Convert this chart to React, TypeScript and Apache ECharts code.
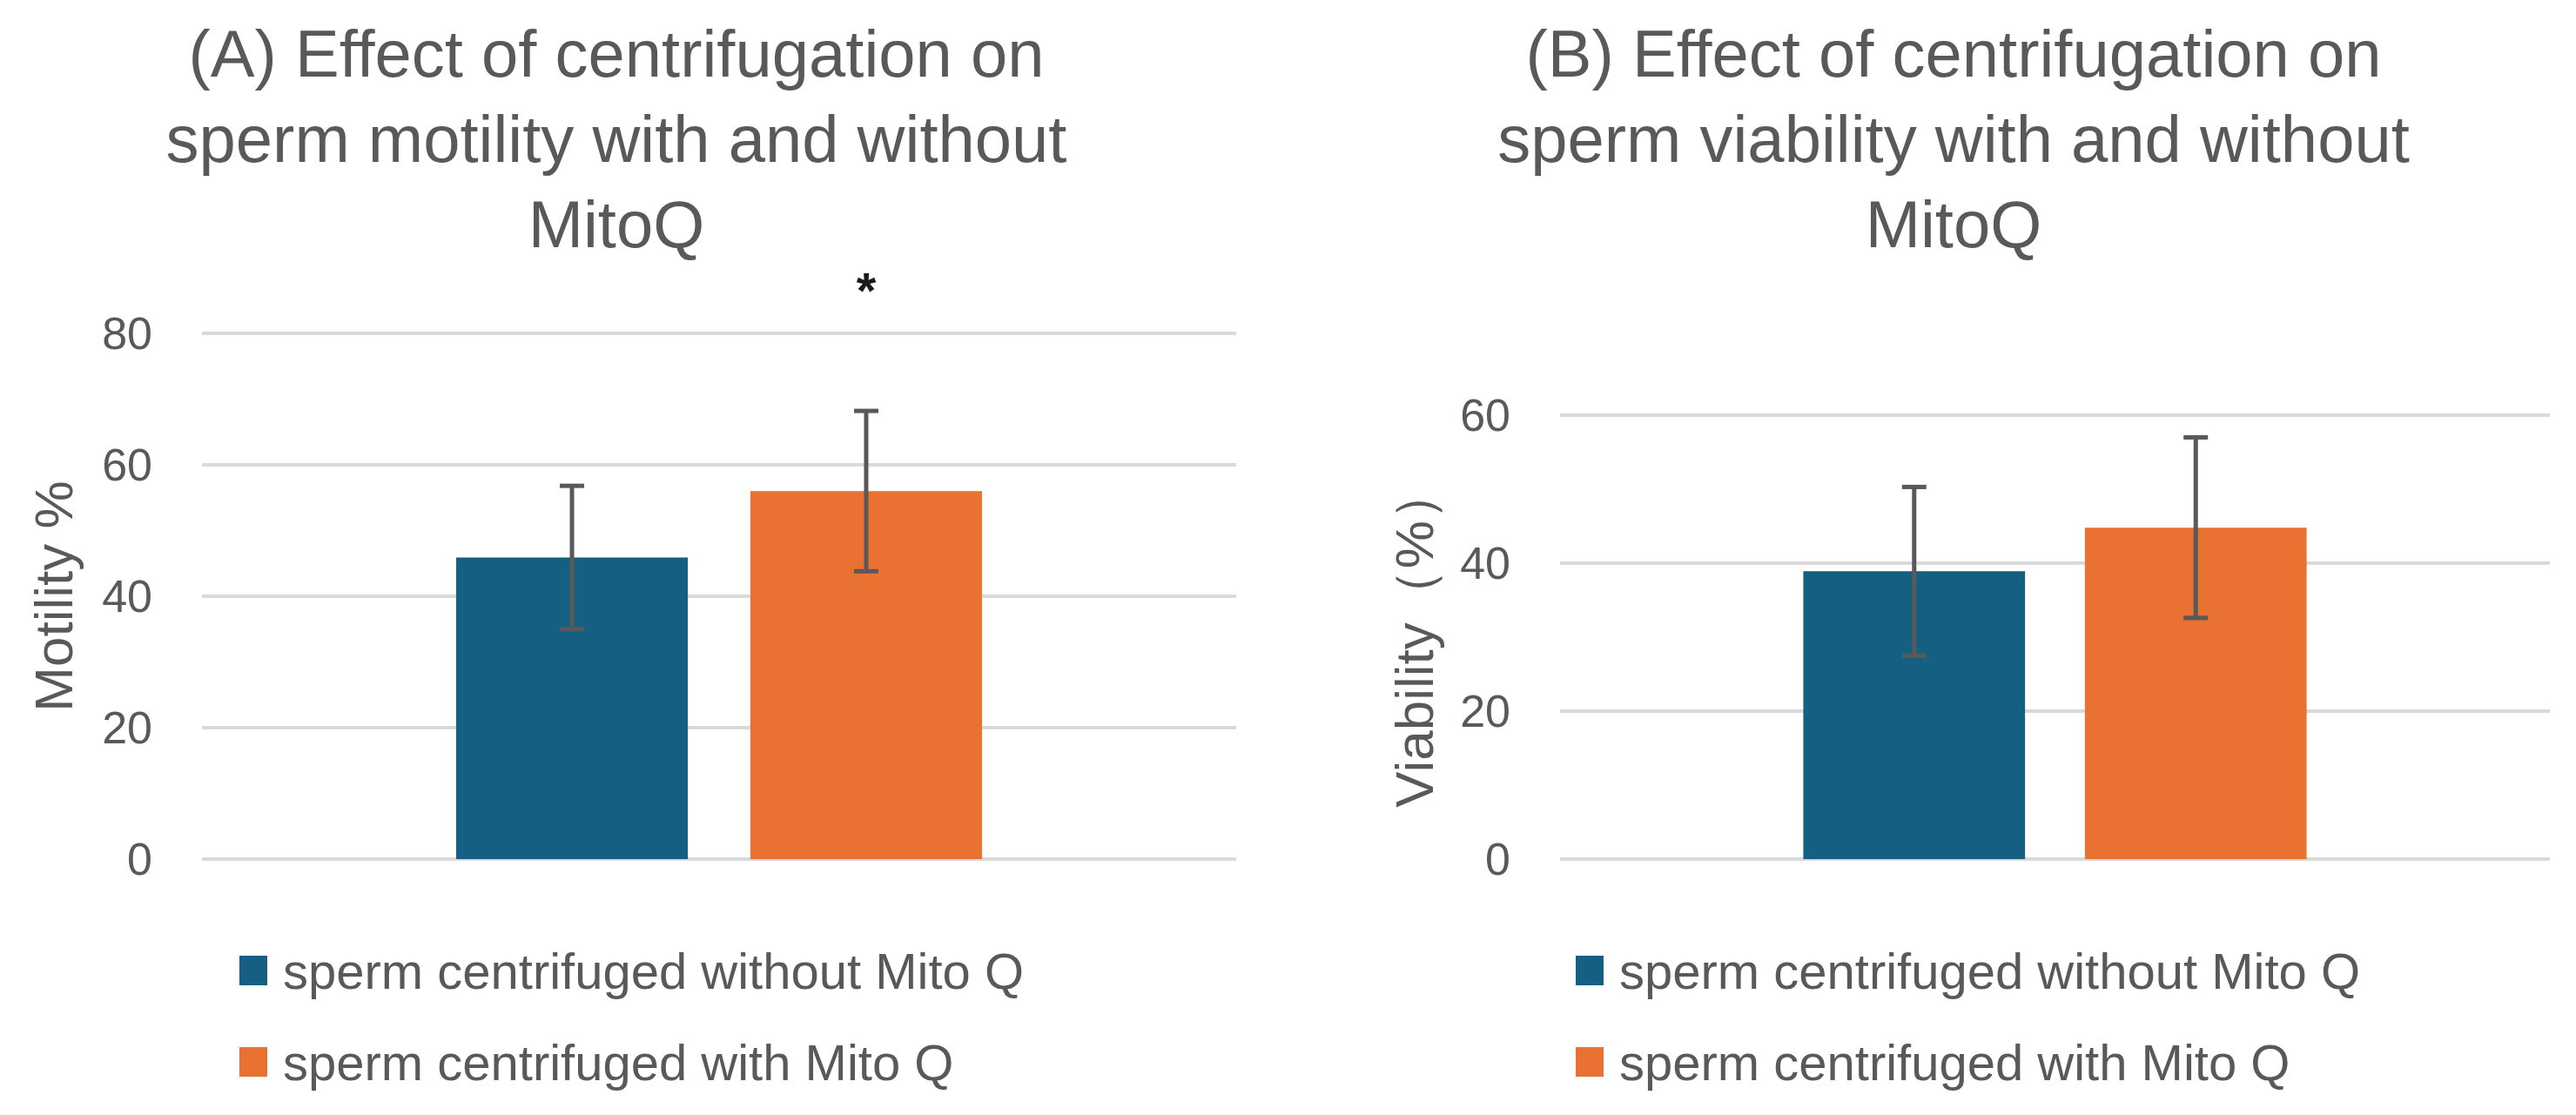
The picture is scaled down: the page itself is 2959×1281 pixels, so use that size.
import React, { useEffect, useRef } from "react";
import * as echarts from "echarts";

const categories = [""];
const seriesNames = ["sperm centrifuged without Mito Q", "sperm centrifuged with Mito Q"];
const motilityMeans = [45.9, 56.0];
const motilitySD = [10.9, 12.2];
const viabilityMeans = [38.9, 44.8];
const viabilitySD = [11.4, 12.2];
const motilitySig = ["", "*"];
const viabilitySig = ["", ""];
const sigLevel = 86.5;
const motilityTicks = { min: 0, max: 80, interval: 20 };
const viabilityTicks = { min: 0, max: 60, interval: 20 };
const titleA = "(A) Effect of centrifugation on\nsperm motility with and without\nMitoQ";
const titleB = "(B) Effect of centrifugation on\nsperm viability with and without\nMitoQ";
const yNameA = "Motility %";
const yNameB = "Viability（%）";

const COLORS = ["#156082", "#E97132"];
const TEXT = "#595959";
const FONT = "'Liberation Sans', Arial, sans-serif";
const BAR_W = 0.224;
const BAR_GAP = 0.27;
const OFFSET = (BAR_W * (1 + BAR_GAP)) / 2;

function errorSeries(gridIdx: number, means: number[], sds: number[], sig: string[]) {
  return {
    type: "custom",
    xAxisIndex: gridIdx,
    yAxisIndex: gridIdx,
    z: 5,
    silent: true,
    data: means.map((m, i) => [0, m - sds[i], m + sds[i], i === 0 ? -1 : 1]),
    renderItem: (params: any, api: any) => {
      const cat = api.value(0);
      const low = api.value(1);
      const high = api.value(2);
      const side = api.value(3);
      const band = api.size([1, 0])[0];
      const pLow = api.coord([cat, low]);
      const pHigh = api.coord([cat, high]);
      const x = pLow[0] + side * band * OFFSET;
      const cap = 14;
      const style = { stroke: TEXT, lineWidth: 5 };
      const children: any[] = [
        { type: "line", shape: { x1: x, y1: pHigh[1], x2: x, y2: pLow[1] }, style },
        { type: "line", shape: { x1: x - cap, y1: pHigh[1], x2: x + cap, y2: pHigh[1] }, style },
        { type: "line", shape: { x1: x - cap, y1: pLow[1], x2: x + cap, y2: pLow[1] }, style },
      ];
      const mark = sig[params.dataIndex];
      if (mark) {
        const ps = api.coord([cat, sigLevel]);
        children.push({
          type: "text",
          style: {
            x,
            y: ps[1],
            text: mark,
            fill: "#1a1a1a",
            font: `bold 58px ${FONT}`,
            align: "center",
            verticalAlign: "middle",
          },
        });
      }
      return { type: "group", children };
    },
  };
}

function barSeries(gridIdx: number, means: number[]) {
  return means.map((m, i) => ({
    name: seriesNames[i],
    type: "bar",
    xAxisIndex: gridIdx,
    yAxisIndex: gridIdx,
    data: [m],
    barWidth: `${BAR_W * 100}%`,
    barGap: `${BAR_GAP * 100}%`,
    itemStyle: { color: COLORS[i] },
  }));
}

function yAxis(gridIdx: number, name: string, t: { min: number; max: number; interval: number }, nameGap: number) {
  return {
    type: "value",
    gridIndex: gridIdx,
    min: t.min,
    max: t.max,
    interval: t.interval,
    name,
    nameLocation: "middle",
    nameRotate: 90,
    nameGap,
    nameTextStyle: { fontSize: 62, color: TEXT, fontFamily: FONT },
    axisLine: { show: false },
    axisTick: { show: false },
    axisLabel: { fontSize: 52, color: TEXT, fontFamily: FONT, margin: 57 },
    splitLine: { lineStyle: { color: "#D9D9D9", width: 4 } },
  };
}

function xAxis(gridIdx: number) {
  return {
    type: "category",
    gridIndex: gridIdx,
    data: categories,
    axisLine: { show: false },
    axisTick: { show: false },
    axisLabel: { show: false },
  };
}

function legend(left: number) {
  return {
    orient: "vertical",
    left,
    top: 1085,
    padding: 0,
    icon: "rect",
    itemWidth: 32,
    itemHeight: 34,
    itemGap: 45,
    data: seriesNames,
    textStyle: { fontSize: 58, color: TEXT, fontFamily: FONT, lineHeight: 60, padding: [0, 0, 0, 13] },
  };
}

export default function App() {
  const ref = useRef<HTMLDivElement>(null);
  useEffect(() => {
    document.body.style.margin = "0";
    if (!ref.current) return;
    const chart = echarts.init(ref.current, null, { renderer: "svg" });
    const titleStyle = { fontSize: 76, fontWeight: "normal", color: TEXT, fontFamily: FONT, lineHeight: 98 };
    chart.setOption({
      animation: false,
      backgroundColor: "#ffffff",
      title: [
        { text: titleA, left: 708, top: 12, textAlign: "center", padding: 0, textStyle: titleStyle },
        { text: titleB, left: 2244, top: 12, textAlign: "center", padding: 0, textStyle: titleStyle },
      ],
      legend: [legend(275), legend(1810)],
      grid: [
        { left: 232, right: 2959 - 1420, top: 383, bottom: 1281 - 987, containLabel: false },
        { left: 1792, right: 30, top: 477, bottom: 1281 - 987, containLabel: false },
      ],
      xAxis: [xAxis(0), xAxis(1)],
      yAxis: [yAxis(0, yNameA, motilityTicks, 140), yAxis(1, yNameB, viabilityTicks, 137)],
      series: [
        ...barSeries(0, motilityMeans),
        ...barSeries(1, viabilityMeans),
        errorSeries(0, motilityMeans, motilitySD, motilitySig),
        errorSeries(1, viabilityMeans, viabilitySD, viabilitySig),
      ],
    });
    return () => chart.dispose();
  }, []);
  return <div ref={ref} style={{ width: 2959, height: 1281 }} />;
}
